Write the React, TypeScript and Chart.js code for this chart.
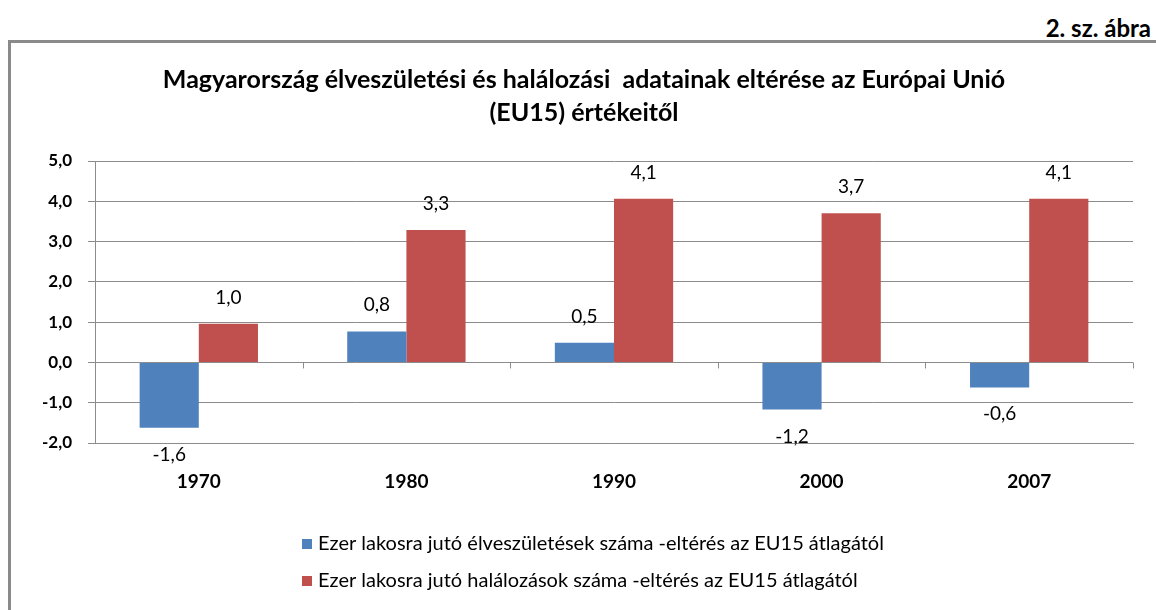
import React, { useEffect, useRef } from "react";
import { Chart, registerables } from "chart.js";

Chart.register(...registerables);

// ---- data ----
const categories = ["1970", "1980", "1990", "2000", "2007"];
const birthsDiff = [-1.62, 0.77, 0.49, -1.17, -0.62];
const deathsDiff = [0.96, 3.29, 4.06, 3.7, 4.06];
const seriesNames = [
  "Ezer lakosra jutó élveszületések száma -eltérés az EU15 átlagától",
  "Ezer lakosra jutó halálozások száma -eltérés az EU15 átlagától",
];
const seriesColors = ["#4F81BD", "#C0504D"];
const titleLines = [
  "Magyarország élveszületési és halálozási  adatainak eltérése az Európai Unió",
  "(EU15) értékeitől",
];
const figureLabel = "2. sz. ábra";
const yMin = -2;
const yMax = 5;
const yStep = 1;

const GRID = "#8c8c8c";
const FONT = "Lato, 'Open Sans', sans-serif";

const fmt = (v: number) => v.toFixed(1).replace(".", ",");

const dataLabelPlugin = {
  id: "dataLabels",
  afterDatasetsDraw(chart: any) {
    const ctx = chart.ctx;
    ctx.save();
    ctx.font = `19px ${FONT}`;
    ctx.fillStyle = "#000";
    ctx.textAlign = "center";
    ctx.textBaseline = "alphabetic";
    chart.data.datasets.forEach((ds: any, di: number) => {
      const meta = chart.getDatasetMeta(di);
      meta.data.forEach((bar: any, i: number) => {
        const v = ds.data[i] as number;
        const y = v >= 0 ? bar.y - 20 : bar.y + 33;
        ctx.fillText(fmt(v), bar.x, y);
      });
    });
    ctx.restore();
  },
};

const axisTickPlugin = {
  id: "zeroAxisTicks",
  afterDatasetsDraw(chart: any) {
    const x = chart.scales.x;
    const y = chart.scales.y;
    const y0 = y.getPixelForValue(0);
    const ctx = chart.ctx;
    ctx.save();
    ctx.strokeStyle = GRID;
    ctx.lineWidth = 1;
    ctx.beginPath();
    for (let i = 1; i <= categories.length; i++) {
      const px = Math.round(x.getPixelForValue(i - 0.5)) + 0.5;
      ctx.moveTo(px, y0);
      ctx.lineTo(px, y0 + 6);
    }
    ctx.stroke();
    ctx.restore();
  },
};

const legendPlugin = {
  id: "stackedLegend",
  afterDraw(chart: any) {
    const ctx = chart.ctx;
    const area = chart.chartArea;
    ctx.save();
    ctx.font = `20px ${FONT}`;
    ctx.textBaseline = "middle";
    ctx.textAlign = "left";
    chart.data.datasets.forEach((ds: any, i: number) => {
      const cy = area.bottom + 101 + i * 37;
      const bx = 302;
      ctx.fillStyle = ds.backgroundColor;
      ctx.fillRect(bx, cy - 5, 10, 10);
      ctx.fillStyle = "#000";
      ctx.fillText(ds.label, bx + 16, cy);
    });
    ctx.restore();
  },
};

export default function App() {
  const ref = useRef<HTMLCanvasElement>(null);

  useEffect(() => {
    if (!ref.current) return;
    const chart = new Chart(ref.current, {
      type: "bar",
      data: {
        labels: categories,
        datasets: [
          {
            label: seriesNames[0],
            data: birthsDiff,
            backgroundColor: seriesColors[0],
            borderWidth: 0,
          },
          {
            label: seriesNames[1],
            data: deathsDiff,
            backgroundColor: seriesColors[1],
            borderWidth: 0,
          },
        ],
      },
      options: {
        animation: false,
        responsive: false,
        devicePixelRatio: 1,
        layout: { padding: { top: 50, left: 35, right: 23, bottom: 117 } },
        datasets: {
          bar: { categoryPercentage: 0.57, barPercentage: 1.0 },
        },
        plugins: {
          legend: { display: false },
          tooltip: { enabled: false },
          title: {
            display: true,
            text: titleLines,
            color: "#000",
            font: { family: FONT, size: 25, weight: "bold", lineHeight: 1.32 },
            padding: { top: 13.5, bottom: 31.5 },
          },
        },
        scales: {
          x: {
            grid: { display: false, drawTicks: false },
            border: { display: true, color: GRID },
            ticks: {
              color: "#000",
              font: { family: FONT, size: 19, weight: "bold" },
              padding: 27,
            },
            afterFit: (s: any) => {
              s.height = 50;
            },
          },
          y: {
            min: yMin,
            max: yMax,
            grid: { color: GRID, tickLength: 7, drawTicks: true },
            border: { display: true, color: GRID },
            ticks: {
              stepSize: yStep,
              color: "#000",
              padding: 16,
              font: { family: FONT, size: 17, weight: "bold" },
              callback: (v: any) => fmt(Number(v)),
            },
            afterFit: (s: any) => {
              s.width = 60;
            },
          },
        },
      },
      plugins: [axisTickPlugin, dataLabelPlugin, legendPlugin],
    });
    return () => chart.destroy();
  }, []);

  return (
    <div
      style={{
        position: "absolute",
        left: 0,
        top: 0,
        width: 1156,
        height: 610,
        overflow: "hidden",
        background: "#fff",
      }}
    >
      <div
        style={{
          position: "absolute",
          right: 5,
          top: 16,
          fontFamily: FONT,
          fontWeight: "bold",
          fontSize: 24,
          lineHeight: "24px",
          color: "#000",
        }}
      >
        {figureLabel}
      </div>
      <div
        style={{
          position: "absolute",
          left: 8,
          top: 40,
          width: 1170,
          height: 620,
          borderLeft: "3px solid #8a8a8a",
          borderTop: "3px solid #8a8a8a",
        }}
      />
      <canvas
        ref={ref}
        width={1156}
        height={610}
        style={{ position: "absolute", left: 0, top: 0 }}
      />
    </div>
  );
}
